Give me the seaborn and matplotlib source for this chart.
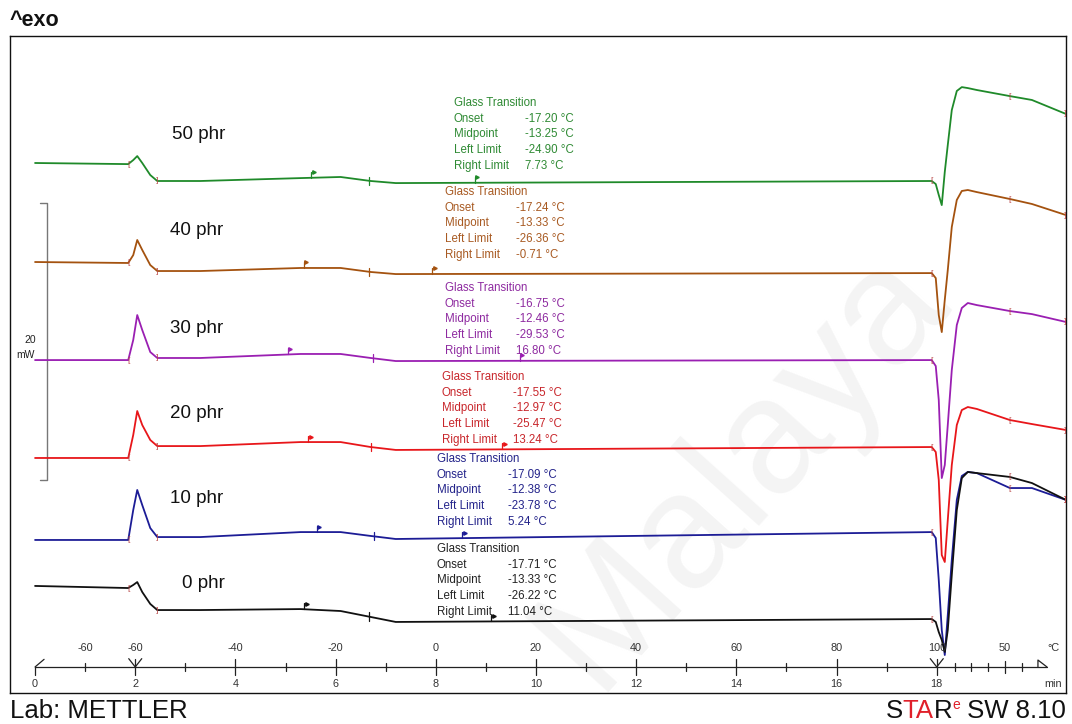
import numpy as np
import pandas as pd
import matplotlib
matplotlib.use("Agg")
import matplotlib.pyplot as plt
import seaborn as sns

# ---------------------------------------------------------------- data
# sampling times (min), shared by all DSC runs
time_min = [0, 1.86, 1.96, 2.04, 2.14, 2.30, 2.44, 3.3, 5.3, 6.1, 6.7, 7.2,
            17.9, 17.98, 18.04, 18.1, 18.16, 18.22, 18.3, 18.4, 18.5, 18.62,
            18.8, 19.46, 19.9, 20.58]

# heat flow (mW, curves stacked as displayed, exo up)
hf_50 = [38.27, 38.19, 38.48, 38.77, 38.27, 37.40, 36.97, 36.97, 37.18, 37.26, 36.97, 36.82,
         36.97, 36.75, 35.96, 35.23, 37.62, 39.57, 42.09, 43.47, 43.75, 43.68, 43.54, 43.10, 42.82, 41.81]
hf_40 = [31.12, 31.05, 31.62, 32.71, 31.99, 30.90, 30.47, 30.47, 30.69, 30.69, 30.40, 30.25,
         30.32, 29.96, 27.29, 26.06, 28.38, 30.54, 33.65, 35.60, 36.25, 36.32, 36.17, 35.67, 35.31, 34.51]
hf_30 = [24.04, 24.04, 25.49, 27.29, 26.21, 24.62, 24.19, 24.19, 24.48, 24.48, 24.19, 23.97,
         24.04, 23.61, 21.16, 15.52, 16.46, 19.35, 23.32, 26.57, 27.80, 28.16, 28.01, 27.58, 27.36, 26.79]
hf_20 = [16.97, 16.97, 18.63, 20.36, 19.35, 18.27, 17.83, 17.83, 18.12, 18.12, 17.76, 17.55,
         17.76, 17.40, 15.38, 9.96, 9.46, 12.49, 16.46, 19.35, 20.43, 20.65, 20.51, 19.71, 19.42, 18.99]
hf_10 = [11.05, 11.05, 13.21, 14.66, 13.57, 11.91, 11.26, 11.26, 11.62, 11.62, 11.34, 11.12,
         11.62, 11.19, 8.16, 4.55, 2.74, 5.63, 9.60, 13.94, 15.67, 15.96, 15.88, 14.80, 14.80, 13.94]
hf_0 = [7.73, 7.58, 7.80, 8.01, 7.29, 6.43, 5.99, 5.99, 6.06, 5.92, 5.49, 5.13,
        5.34, 5.13, 4.40, 3.83, 2.96, 4.55, 8.52, 13.21, 15.52, 15.96, 15.88, 15.60, 15.16, 13.94]

samples = ["50 phr", "40 phr", "30 phr", "20 phr", "10 phr", "0 phr"]
heat_flows = [hf_50, hf_40, hf_30, hf_20, hf_10, hf_0]

# glass transition evaluation (°C)
tg_onset = [-17.20, -17.24, -16.75, -17.55, -17.09, -17.71]
tg_midpoint = [-13.25, -13.33, -12.46, -12.97, -12.38, -13.33]
tg_left = [-24.90, -26.36, -29.53, -25.47, -23.78, -26.22]
tg_right = [7.73, -0.71, 16.80, 13.24, 5.24, 11.04]

# temperature program: -60 °C isotherm, then heating at 10 K/min from 2 min
t_heat_start = 2.0
temp_start = -60.0
heat_rate = 10.0

time_ticks = [0, 2, 4, 6, 8, 10, 12, 14, 16, 18]
temp_labels = ["-60", "-60", "-40", "-20", "0", "20", "40", "60", "80", "100", "50", "°C"]
temp_label_pos = [1, 2, 4, 6, 8, 10, 12, 14, 16, 18, 19.36, 20.32]
scale_bar_mw = 20

# ---------------------------------------------------------------- style
line_colors = ["#1f8a2a", "#a4520f", "#9a1fb2", "#e8161a", "#1c1c96", "#111111"]
text_colors = ["#2f8a34", "#a85a22", "#8e2aa0", "#c8262b", "#23238a", "#222222"]

sns.set_theme(style="white")
plt.rcParams["font.family"] = ["Liberation Sans", "DejaVu Sans"]

fig = plt.figure(figsize=(10.72, 7.24), dpi=100)
ax = fig.add_axes([10 / 1072, 31 / 724, 1056 / 1072, 657 / 724])
ax.set_xlim(-0.5, 20.58)
ax.set_ylim(0, 47.44)

# faint watermark behind everything
ax.text(14.1, 16.3, "Malaya", rotation=48, fontsize=118, color="#f4f4f4",
        ha="center", va="center", zorder=0)

df = pd.concat([pd.DataFrame({"time": time_min, "hf": hf, "sample": s})
                for s, hf in zip(samples, heat_flows)], ignore_index=True)
sns.lineplot(data=df, x="time", y="hf", hue="sample", hue_order=samples,
             palette=dict(zip(samples, line_colors)), estimator=None, sort=False,
             legend=False, lw=1.3, ax=ax, zorder=3)


def temp_to_time(T):
    return t_heat_start + (T - temp_start) / heat_rate


label_pos = [(2.73, 40.3), (2.69, 33.4), (2.69, 26.3), (2.69, 20.2), (2.69, 14.05), (2.93, 7.9)]
block_pos = [(8.36, 42.60), (8.18, 36.17), (8.18, 29.24), (8.12, 22.82), (8.02, 16.90), (8.02, 10.40)]
line_step = 1.13

for i, (s, hf) in enumerate(zip(samples, heat_flows)):
    lx, ly = label_pos[i]
    ax.text(lx, ly, s, fontsize=13.5, color="#111111", ha="left", va="center", zorder=5)

    # evaluation limits on each curve
    tl = temp_to_time(tg_left[i])
    tm = temp_to_time(tg_midpoint[i])
    tr = temp_to_time(tg_right[i])
    for tt in (tl, tr):
        yy = np.interp(tt, time_min, hf)
        ax.plot([tt, tt], [yy, yy + 0.45], color=line_colors[i], lw=0.9, zorder=4)
        ax.plot([tt + 0.05], [yy + 0.40], marker=">", ms=2.5, color=line_colors[i], zorder=4)
    ym = np.interp(tm, time_min, hf)
    ax.plot([tm, tm], [ym - 0.3, ym + 0.3], color=line_colors[i], lw=0.9, zorder=4)

    # integration brackets
    for idx, ch in [(1, "["), (6, "]"), (12, "["), (23, "[")]:
        ax.text(time_min[idx], hf[idx], ch, fontsize=6, color="#b84848",
                ha="center", va="center", zorder=4)
    ax.text(time_min[-1], hf[-1], "]", fontsize=6, color="#b84848",
            ha="right", va="center", zorder=4)

    # result table
    bx, by = block_pos[i]
    rows = [("Onset", tg_onset[i]), ("Midpoint", tg_midpoint[i]),
            ("Left Limit", tg_left[i]), ("Right Limit", tg_right[i])]
    ax.text(bx, by, "Glass Transition", fontsize=8.3, color=text_colors[i],
            ha="left", va="center", zorder=5)
    for k, (name, val) in enumerate(rows, start=1):
        ax.text(bx, by - k * line_step, name, fontsize=8.3, color=text_colors[i],
                ha="left", va="center", zorder=5)
        ax.text(bx + 1.42, by - k * line_step, f"{val:.2f} °C", fontsize=8.3,
                color=text_colors[i], ha="left", va="center", zorder=5)

# scale bar
sb_t = 0.24
sb_low = 15.38
ax.plot([sb_t - 0.14, sb_t, sb_t, sb_t - 0.14],
        [sb_low + scale_bar_mw, sb_low + scale_bar_mw, sb_low, sb_low],
        color="#777777", lw=1.0, zorder=2)
ax.text(-0.1, 25.5, str(scale_bar_mw), fontsize=7.5, ha="center", va="center", color="#222222")
ax.text(-0.2, 24.4, "mW", fontsize=7.5, ha="center", va="center", color="#222222")

# combined time / temperature axis
y_ax = 1.88
ax.plot([0, 20.2], [y_ax, y_ax], color="#222222", lw=0.9, zorder=2)
for t in time_ticks:
    lo = y_ax - 0.55
    hi = y_ax if t == 0 else y_ax + 0.55
    ax.plot([t, t], [lo, hi], color="#222222", lw=0.9)
for t in range(1, 18, 2):
    ax.plot([t, t], [y_ax - 0.3, y_ax + 0.3], color="#222222", lw=0.9)
for t in [18.36, 18.68, 19.02, 19.36, 19.70]:
    h = 0.45 if t == 19.36 else 0.3
    ax.plot([t, t], [y_ax - h, y_ax + h], color="#222222", lw=0.9)
ax.plot([0, 0.18], [y_ax, y_ax + 0.55], color="#222222", lw=0.9)
for t in (2, 18):
    ax.plot([t - 0.13, t, t + 0.13], [y_ax + 0.6, y_ax, y_ax + 0.6], color="#222222", lw=0.9)
ax.plot([20.02, 20.02, 20.2], [y_ax, y_ax + 0.5, y_ax], color="#222222", lw=0.9)

for lab, t in zip(temp_labels, temp_label_pos):
    ax.text(t, 3.25, lab, fontsize=7.8, ha="center", va="center", color="#333333")
for t in time_ticks:
    ax.text(t, 0.65, str(t), fontsize=7.8, ha="center", va="center", color="#333333")
ax.text(20.32, 0.65, "min", fontsize=7.8, ha="center", va="center", color="#333333")

ax.set_xticks([])
ax.set_yticks([])
ax.set_xlabel("")
ax.set_ylabel("")
for sp in ax.spines.values():
    sp.set_color("#111111")
    sp.set_linewidth(1.0)

# header and footer
fig.text(10 / 1072, 1 - 26 / 724, "^exo", fontsize=15.5, fontweight="bold",
         ha="left", va="baseline", color="#111111")
fig.text(10 / 1072, 1 - 718 / 724, "Lab: METTLER", fontsize=18.5,
         ha="left", va="baseline", color="#111111")

renderer = fig.canvas.get_renderer()
pieces = [("S", "#111111", 18.5, 0.0), ("TA", "#e0202a", 18.5, 0.0), ("R", "#111111", 18.5, 0.0),
          ("e", "#e0202a", 10, 0.013), (" SW 8.10", "#111111", 18.5, 0.0)]
objs = []
for txt, col, sz, dy in pieces:
    objs.append(fig.text(0, 1 - 718 / 724 + dy, txt, fontsize=sz, color=col,
                         ha="left", va="baseline"))
widths = [o.get_window_extent(renderer).width for o in objs]
x = 1066 - sum(widths)
for o, w in zip(objs, widths):
    o.set_x(x / fig.bbox.width)
    x += w

fig.savefig("out.png", dpi=100, facecolor="white")
